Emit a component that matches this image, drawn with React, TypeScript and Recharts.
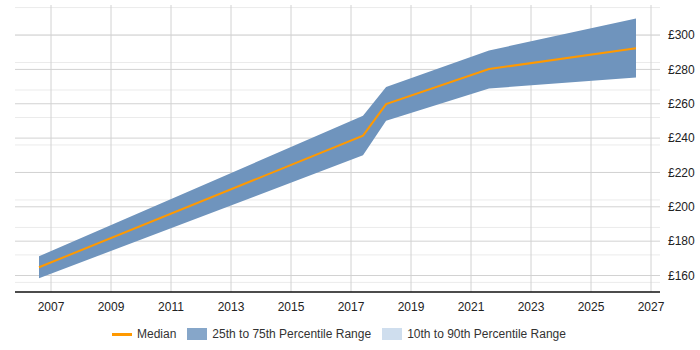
import { ComposedChart, Area, Line, XAxis, YAxis, CartesianGrid } from "recharts";

// yearly checkpoints for the pay series
const years = [2006.6, 2017.4, 2018.17, 2021.6, 2026.5];
const median = [164.8, 241.4, 259.8, 280.2, 292.3];
const p25 = [158.4, 230, 250.1, 268.9, 275.3];
const p75 = [171.2, 253, 269.8, 291, 309.7];

const yearTicks = [2007, 2009, 2011, 2013, 2015, 2017, 2019, 2021, 2023, 2025, 2027];
const payTicks = [160, 180, 200, 220, 240, 260, 280, 300];
const minorLines = Array.from({ length: 42 }, (_, i) => 152 + i * 4);

const data = years.map((year, i) => ({
  year,
  median: median[i],
  range: [p25[i], p75[i]],
}));

const FONT = "'Liberation Sans', Arial, sans-serif";

function LegendRow() {
  return (
    <div
      style={{
        position: "absolute",
        top: 327,
        left: 112,
        display: "flex",
        alignItems: "center",
        fontFamily: FONT,
        fontSize: 12,
        color: "#333",
        whiteSpace: "nowrap",
      }}
    >
      <span style={{ display: "inline-block", width: 20, height: 3, background: "#ff9900", marginRight: 5 }} />
      <span style={{ marginRight: 11 }}>Median</span>
      <span style={{ display: "inline-block", width: 20, height: 12, background: "#86a6c9", marginRight: 5 }} />
      <span style={{ marginRight: 11 }}>25th to 75th Percentile Range</span>
      <span style={{ display: "inline-block", width: 20, height: 12, background: "#cfdeee", marginRight: 5 }} />
      <span>10th to 90th Percentile Range</span>
    </div>
  );
}

export default function App() {
  return (
    <div style={{ position: "absolute", left: 0, top: 0, width: 700, height: 350, background: "#fff" }}>
      <ComposedChart width={700} height={350} data={data} margin={{ top: 5, right: 0, left: 15, bottom: 30 }}>
        <CartesianGrid horizontalValues={minorLines} vertical={false} stroke="#ebebeb" />
        <CartesianGrid horizontalValues={payTicks} verticalValues={yearTicks} stroke="#d2d2d2" />
        <XAxis
          dataKey="year"
          type="number"
          domain={[2005.8, 2027.3]}
          ticks={yearTicks}
          allowDataOverflow
          height={28}
          tickLine={false}
          axisLine={{ stroke: "#111", strokeWidth: 1.5 }}
          tick={{ fontSize: 12, fill: "#222", fontFamily: FONT }}
          tickMargin={4}
        />
        <YAxis
          orientation="right"
          type="number"
          domain={[150.4, 317.5]}
          ticks={payTicks}
          allowDataOverflow
          width={40}
          axisLine={false}
          tickLine={false}
          tick={{ fontSize: 12, fill: "#222", fontFamily: FONT, textAnchor: "start" }}
          tickFormatter={(v) => `£${v}`}
        />
        <Area
          dataKey="range"
          type="linear"
          stroke="none"
          fill="#6f94bd"
          fillOpacity={1}
          isAnimationActive={false}
        />
        <Line
          dataKey="median"
          type="linear"
          stroke="#ff9900"
          strokeWidth={2}
          dot={false}
          isAnimationActive={false}
        />
      </ComposedChart>
      <LegendRow />
    </div>
  );
}
